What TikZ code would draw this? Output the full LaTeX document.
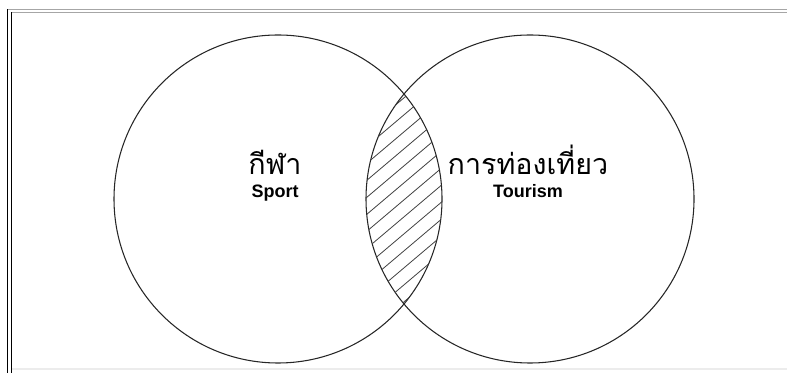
\documentclass[tikz,border=0pt]{standalone}
\usepackage{fontspec}
\newfontfamily\thaifont[Script=Thai]{Loma}
\newfontfamily\labfont{Liberation Sans}
\newcommand{\thaitxt}[1]{{\thaifont\fontsize{21.5}{17.25}\selectfont #1}}
\newcommand{\engtxt}[1]{{\labfont\bfseries\fontsize{13.5}{17.25}\selectfont #1}}
\begin{document}
\begin{tikzpicture}[x=0.75pt,y=-0.75pt,
  ring/.style={draw=black!85, line width=0.8pt, circle, inner sep=0pt, minimum size=246pt},
  lbl/.style={align=center, inner sep=0pt, font=\fontsize{13}{17.25}\selectfont},
  hatch/.style={draw=black!75, line width=0.6pt}]
\useasboundingbox (0,0) rectangle (787,373);
% frame
\draw[gray!70, line width=1pt] (7,9.5) -- (787,9.5);
\draw[gray!70, line width=1pt] (10.5,12.5) -- (787,12.5);
\draw[black, line width=1pt] (7.5,9.5) -- (7.5,373);
\draw[black, line width=1pt] (11.5,12.5) -- (11.5,373);
\draw[gray!15, line width=0.8pt] (12,369) -- (787,369);
% circles
\node[ring] (L) at (278,199) {};
\node[ring] (R) at (530,199) {};
% hatch
\begin{scope}
  \clip (278,199) circle [radius=164];
  \clip (530,199) circle [radius=164];
  \foreach \k in {0,...,20}{
    \draw[hatch] (340,{84+17*\k}) -- (470,{84+17*\k-110});
  }
\end{scope}
% labels
\node[lbl, anchor=base] (t1) at (275,198) {\thaitxt{กีฬา}\\\engtxt{Sport}};
\node[lbl, anchor=base] (t2) at (528,198) {\thaitxt{การท่องเที่ยว}\\\engtxt{Tourism}};
\end{tikzpicture}
\end{document}
